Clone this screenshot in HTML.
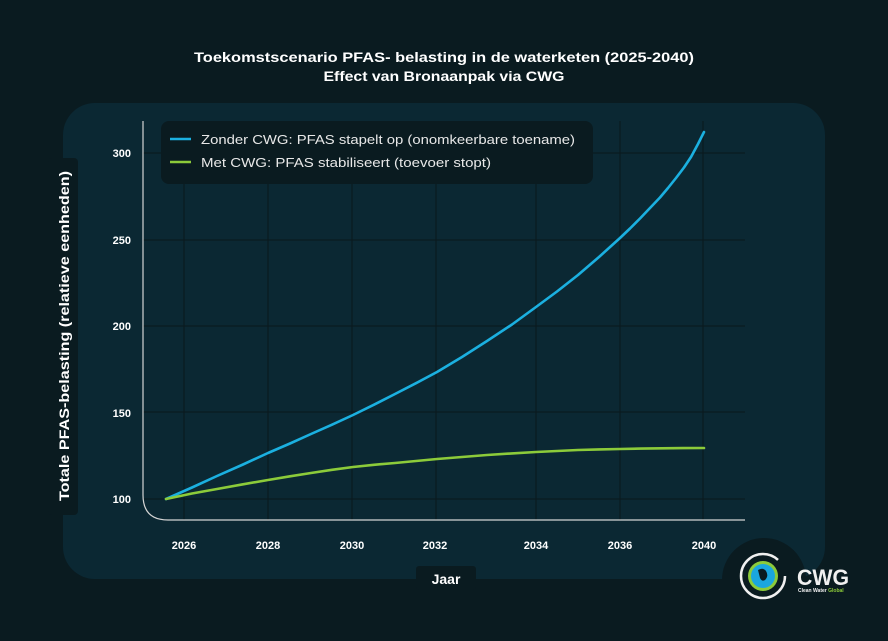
<!DOCTYPE html>
<html><head><meta charset="utf-8"><style>
html,body{margin:0;padding:0;background:#0a1b20;}
svg{display:block;font-family:"Liberation Sans",sans-serif;}
</style></head><body>
<svg width="888" height="641" viewBox="0 0 888 641" xmlns="http://www.w3.org/2000/svg">
<rect width="888" height="641" fill="#0a1b20"/>
<text x="444" y="62" fill="#fff" font-size="14" font-weight="bold" text-anchor="middle" textLength="500" lengthAdjust="spacingAndGlyphs">Toekomstscenario PFAS- belasting in de waterketen (2025-2040)</text>
<text x="444" y="81" fill="#fff" font-size="14" font-weight="bold" text-anchor="middle" textLength="241" lengthAdjust="spacingAndGlyphs">Effect van Bronaanpak via CWG</text>
<rect x="63" y="103" width="762" height="476" rx="32" fill="#0b2833"/>
<circle cx="764" cy="580" r="42" fill="#0a1b20"/>
<rect x="722" y="579" width="120" height="62" fill="#0a1b20"/>
<rect x="48" y="158" width="30" height="357" rx="4" fill="#0a1b20"/>
<text transform="translate(69,336) rotate(-90)" fill="#fff" font-size="14" font-weight="bold" text-anchor="middle" textLength="330" lengthAdjust="spacingAndGlyphs">Totale PFAS-belasting (relatieve eenheden)</text>
<rect x="416" y="566" width="60" height="24" rx="3" fill="#0a1b20"/>
<text x="446" y="584" fill="#fff" font-size="14" font-weight="bold" text-anchor="middle">Jaar</text>
<g stroke="#0a1b20" stroke-width="1.2">
<line x1="184" y1="121" x2="184" y2="520"/><line x1="268" y1="121" x2="268" y2="520"/>
<line x1="352" y1="121" x2="352" y2="520"/><line x1="436" y1="121" x2="436" y2="520"/>
<line x1="536" y1="121" x2="536" y2="520"/><line x1="620" y1="121" x2="620" y2="520"/>
<line x1="703" y1="121" x2="703" y2="520"/>
<line x1="143" y1="153" x2="745" y2="153"/><line x1="143" y1="240" x2="745" y2="240"/>
<line x1="143" y1="326" x2="745" y2="326"/><line x1="143" y1="412" x2="745" y2="412"/>
<line x1="143" y1="499" x2="745" y2="499"/>
</g>
<path d="M143,121 L143,495 Q143,520 168,520 L745,520" fill="none" stroke="#d4d4d4" stroke-width="1.2"/>
<g fill="#fff" font-size="11" font-weight="bold">
<g text-anchor="end"><text x="131" y="157">300</text><text x="131" y="244">250</text><text x="131" y="330">200</text><text x="131" y="417">150</text><text x="131" y="503">100</text></g>
<g text-anchor="middle"><text x="184" y="549">2026</text><text x="268" y="549">2028</text><text x="352" y="549">2030</text><text x="435" y="549">2032</text><text x="536" y="549">2034</text><text x="620" y="549">2036</text><text x="704" y="549">2040</text></g>
</g>
<polyline fill="none" stroke="#1bb0e0" stroke-width="2.6" stroke-linejoin="round" stroke-linecap="round" points="166,499 192,487.5 217,476 243,464.5 268,453 290,443.5 311,434 332,424.7 353,415 374,404.7 395,394 416,383.2 437,372 462,357 487,341 512,324.5 536,307 557,291.5 578,275 599,257 620,238 630,228.5 640,218.5 650,208 660,197.5 668,188 676,178 684,167.5 691,157 698,144 704,132"/>
<polyline fill="none" stroke="#8ccb3a" stroke-width="2.6" stroke-linejoin="round" stroke-linecap="round" points="166,499 192,493.5 217,489 243,484.3 268,480 290,476.3 311,473 332,469.8 353,467 374,464.8 395,463 416,461 437,459 462,457 487,455 512,453.4 536,452 557,451 578,450 599,449.4 620,449 641,448.6 662,448.3 683,448.1 704,448"/>
<rect x="161" y="121" width="432" height="63" rx="8" fill="#0a1b20"/>
<line x1="170" y1="139" x2="191" y2="139" stroke="#1bb0e0" stroke-width="2.6"/>
<line x1="170" y1="162" x2="191" y2="162" stroke="#8ccb3a" stroke-width="2.6"/>
<text x="201" y="144" fill="#e8e8e8" font-size="13" textLength="374" lengthAdjust="spacingAndGlyphs">Zonder CWG: PFAS stapelt op (onomkeerbare toename)</text>
<text x="201" y="167" fill="#e8e8e8" font-size="13" textLength="290" lengthAdjust="spacingAndGlyphs">Met CWG: PFAS stabiliseert (toevoer stopt)</text>
<circle cx="763" cy="576" r="22" fill="none" stroke="#f0f0f0" stroke-width="2.5" stroke-dasharray="120 18"/>
<circle cx="763" cy="576" r="15" fill="#8ccb3a"/>
<circle cx="763" cy="576" r="12" fill="#1aa6de"/>
<path d="M758,570 q5,-3 8,1 q3,5 -1,9 q-3,2 -5,-2 z" fill="#0a1b20"/>
<text x="797" y="585" fill="#f0f0f0" font-size="22" font-weight="bold" textLength="52" lengthAdjust="spacingAndGlyphs">CWG</text>
<text x="798" y="592" fill="#f0f0f0" font-size="5" font-weight="bold">Clean Water <tspan fill="#8ccb3a">Global</tspan></text>
</svg>
</body></html>
